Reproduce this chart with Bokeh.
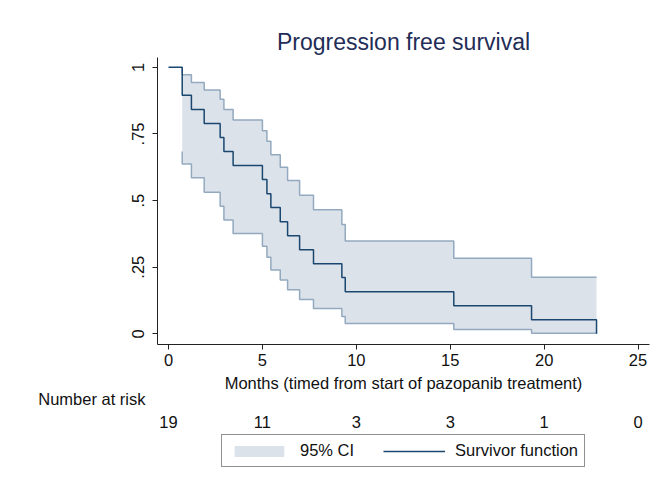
from bokeh.plotting import figure
from bokeh.layouts import column
from bokeh.models import (Range1d, Legend, LegendItem, FixedTicker, Label, LabelSet,
                          ColumnDataSource, LinearAxis)
from bokeh.core.properties import value
from bokeh.embed import file_html
from bokeh.resources import INLINE

# ---- data ----
times = [0, 0.73, 0.73, 1.22, 1.9, 2.75, 2.95, 3.44, 5.0, 5.24, 5.45, 5.95,
         6.34, 6.98, 7.72, 9.23, 9.41, 15.19, 19.33, 22.79]
surv = [1.0, 0.947, 0.895, 0.842, 0.789, 0.737, 0.684, 0.632, 0.579, 0.526,
        0.474, 0.421, 0.368, 0.316, 0.263, 0.211, 0.158, 0.105, 0.053, 0.0]

ci_times = [0.73, 0.73, 1.22, 1.9, 2.75, 2.95, 3.44, 5.0, 5.24, 5.45, 5.95,
            6.34, 6.98, 7.72, 9.23, 9.41, 15.19, 19.33, 22.79]
ci_upper = [1.0, 0.972, 0.943, 0.915, 0.88, 0.842, 0.8025, 0.7625, 0.7225,
            0.6725, 0.625, 0.575, 0.52, 0.466, 0.41, 0.348, 0.2835, 0.2125, 0.2125]
ci_lower = [0.684, 0.6375, 0.586, 0.531, 0.4785, 0.4275, 0.377, 0.3285, 0.287,
            0.24, 0.2025, 0.165, 0.1286, 0.095, 0.065, 0.0385, 0.016, 0.0025, 0.0025]

x_ticks = [0, 5, 10, 15, 20, 25]
y_ticks = [0, 0.25, 0.5, 0.75, 1]
y_tick_labels = ["0", ".25", ".5", ".75", "1"]
at_risk_times = [0, 5, 10, 15, 20, 25]
at_risk = [19, 11, 3, 3, 1, 0]

FONT = "Liberation Sans"
FS = "16.5px"
NAVY = "#1a476f"
CI_LINE = "#93a9bf"
CI_FILL = "#dce2ea"
TXT = "#111111"

X0, X1 = -0.586, 25.61
LEFT = 157

# ---------------- main plot ----------------
p = figure(frame_width=492, frame_height=287, output_backend="svg",
           toolbar_location=None,
           x_range=Range1d(X0, X1), y_range=Range1d(-0.04, 1.037),
           min_border_left=LEFT, min_border_right=5, min_border_top=57,
           min_border_bottom=30)
p.outline_line_color = None
p.xgrid.visible = False
p.ygrid.visible = False
p.background_fill_color = "white"
p.border_fill_color = "white"

p.title.text = "Progression free survival"
p.title.align = "center"
p.title.text_font = FONT
p.title.text_font_size = "23px"
p.title.text_font_style = "normal"
p.title.text_color = "#1f2d57"
p.title.standoff = 5

p.varea_step(x=ci_times, y1=ci_lower, y2=ci_upper, step_mode="after",
             fill_color=CI_FILL)
p.step(x=ci_times, y=ci_upper, mode="after", line_color=CI_LINE, line_width=1.5)
p.step(x=ci_times, y=ci_lower, mode="after", line_color=CI_LINE, line_width=1.5)
p.step(x=times, y=surv, mode="after", line_color=NAVY, line_width=1.5)

for ax in (p.xaxis[0], p.yaxis[0]):
    ax.axis_line_color = "#222222"
    ax.major_tick_line_color = "#222222"
    ax.major_tick_out = 5
    ax.major_tick_in = 0
    ax.minor_tick_line_color = None
    ax.major_label_text_font = FONT
    ax.major_label_text_font_size = FS
    ax.major_label_text_color = TXT

p.xaxis.ticker = FixedTicker(ticks=x_ticks)
p.yaxis.ticker = FixedTicker(ticks=y_ticks)
p.yaxis.major_label_overrides = {t: l for t, l in zip(y_ticks, y_tick_labels)}
p.yaxis.major_label_orientation = "vertical"
p.yaxis.major_label_standoff = 8
p.xaxis.major_label_standoff = 4

# ---------------- lower panel: axis title, number at risk, legend ----------------
TOP2, BOT2 = 374, 483   # page rows covered by this panel
p2 = figure(frame_width=492, height=BOT2 - TOP2, output_backend="svg",
            toolbar_location=None, x_range=p.x_range, y_range=Range1d(BOT2, TOP2),
            x_axis_type=None, y_axis_type=None,
            min_border_left=LEFT, min_border_right=5, min_border_top=0,
            min_border_bottom=0)
p2.outline_line_color = None
p2.xgrid.visible = False
p2.ygrid.visible = False
p2.background_fill_color = "white"
p2.border_fill_color = "white"

ROW_HEAD, ROW_RISK, ROW_XLABEL = 398, 421, 382

# "Number at risk" heading as a bare left axis label
head_axis = LinearAxis(ticker=FixedTicker(ticks=[ROW_HEAD]),
                       major_label_overrides={ROW_HEAD: "Number at risk"})
head_axis.axis_line_color = None
head_axis.major_tick_line_color = None
head_axis.minor_tick_line_color = None
head_axis.major_tick_out = 0
head_axis.major_label_standoff = 12
head_axis.major_label_text_font = FONT
head_axis.major_label_text_font_size = FS
head_axis.major_label_text_color = TXT
head_axis.major_label_orientation = "horizontal"
p2.add_layout(head_axis, "left")

p2.add_layout(Label(x=(X0 + X1) / 2, y=ROW_XLABEL,
                    text="Months (timed from start of pazopanib treatment)",
                    text_align="center", text_baseline="middle",
                    text_font=FONT, text_font_size=FS, text_color=TXT))

risk_src = ColumnDataSource(dict(x=at_risk_times, y=[ROW_RISK] * len(at_risk_times),
                                 t=[str(n) for n in at_risk]))
p2.add_layout(LabelSet(x="x", y="y", text="t", source=risk_src,
                       text_align="center", text_baseline="middle",
                       text_font=value(FONT), text_font_size=value(FS),
                       text_color=TXT))

# legend keys: same series, drawn in this panel where they fall outside its visible rows
band_key = p2.varea_step(x=ci_times, y1=ci_lower, y2=ci_upper, step_mode="after",
                         fill_color=CI_FILL)
line_key = p2.step(x=times, y=surv, mode="after", line_color=NAVY, line_width=1.5)
legend = Legend(items=[LegendItem(label="95% CI", renderers=[band_key]),
                       LegendItem(label="Survivor function", renderers=[line_key])],
                orientation="horizontal", location=(221 - LEFT, BOT2 - 467),
                border_line_color="#222222", border_line_width=1,
                glyph_width=62, glyph_height=14, label_height=14,
                label_text_font=FONT, label_text_font_size=FS, label_text_color=TXT,
                padding=6, spacing=29, label_standoff=10, margin=0,
                background_fill_alpha=1.0)
p2.add_layout(legend, "center")

layout = column(p, p2, spacing=0)
open("out.html", "w").write(file_html(layout, INLINE))
